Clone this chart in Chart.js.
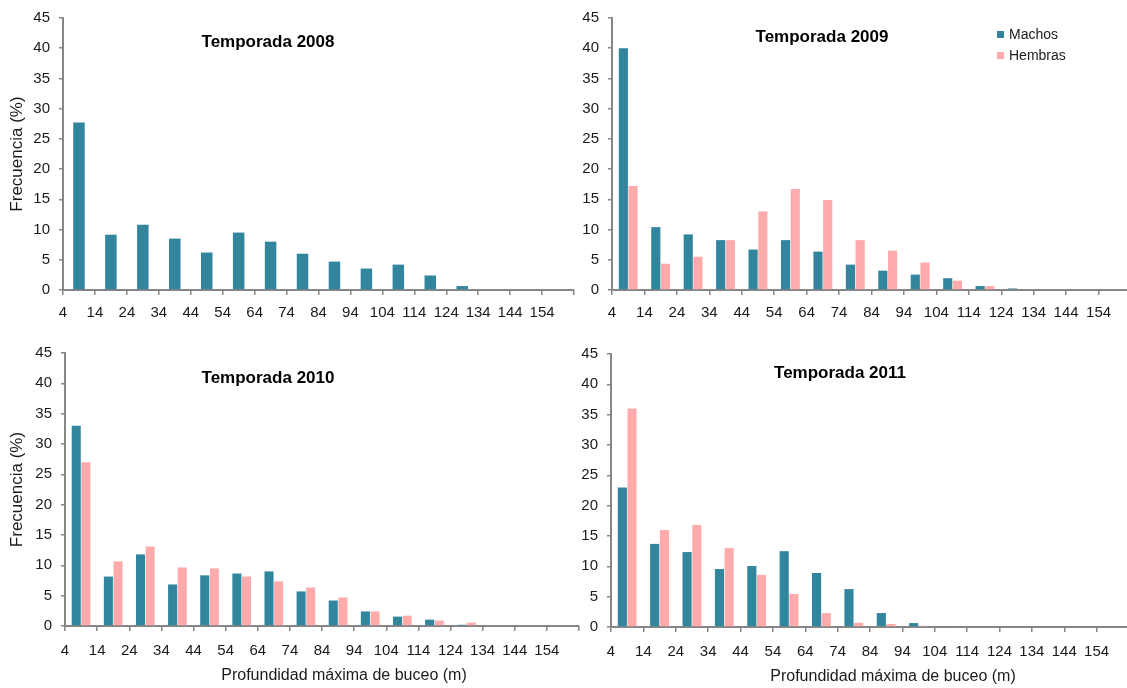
<!DOCTYPE html>
<html>
<head>
<meta charset="utf-8">
<script src="https://cdn.jsdelivr.net/npm/chart.js@4.4.1/dist/chart.umd.min.js"></script>
<style>
  html, body { margin: 0; padding: 0; background: #fff; overflow: hidden; width: 1127px; height: 688px; }
  canvas { position: absolute; }
</style>
</head>
<body>
<canvas id="c2008" width="590" height="330" style="left:0;top:0"></canvas>
<canvas id="c2009" width="580" height="330" style="left:560px;top:0"></canvas>
<canvas id="c2010" width="590" height="358" style="left:0;top:330px"></canvas>
<canvas id="c2011" width="580" height="358" style="left:560px;top:330px"></canvas>
<script>
// limites de clase (etiquetas del eje x) y centro de cada clase
const tickLabels = [4, 14, 24, 34, 44, 54, 64, 74, 84, 94, 104, 114, 124, 134, 144, 154];
const binMid = [9, 19, 29, 39, 49, 59, 69, 79, 89, 99, 109, 119, 129, 139, 149, 159];

// frecuencias (%)
const machos2008 = [27.7, 9.15, 10.8, 8.5, 6.2, 9.5, 8.0, 6.0, 4.7, 3.55, 4.2, 2.4, 0.65, 0, 0, 0];
const machos2009 = [40.0, 10.4, 9.2, 8.25, 6.7, 8.25, 6.35, 4.2, 3.2, 2.55, 1.95, 0.65, 0.25, 0, 0, 0];
const hembras2009 = [17.2, 4.35, 5.5, 8.25, 13.0, 16.7, 14.9, 8.25, 6.5, 4.55, 1.55, 0.65, 0, 0, 0, 0];
const machos2010 = [33.0, 8.15, 11.8, 6.85, 8.35, 8.65, 9.0, 5.7, 4.2, 2.4, 1.55, 1.05, 0.2, 0, 0, 0];
const hembras2010 = [27.0, 10.65, 13.1, 9.65, 9.5, 8.15, 7.35, 6.35, 4.7, 2.4, 1.7, 0.9, 0.55, 0, 0, 0];
const machos2011 = [23.0, 13.7, 12.35, 9.55, 10.05, 12.5, 8.9, 6.25, 2.3, 0.65, 0.15, 0, 0, 0, 0, 0];
const hembras2011 = [36.0, 16.0, 16.8, 13.0, 8.6, 5.45, 2.3, 0.7, 0.5, 0.2, 0, 0, 0, 0, 0, 0];

const colMachos = '#31859C';
const colHembras = '#FFABAB';
const axisCol = '#868686';
const txtCol = '#1a1a1a';
const fontFam = '"Liberation Sans", Arial, sans-serif';

// textos libres dentro del grafico (titulo, leyenda, titulo eje x)
const overlay = {
    id: 'overlay',
    afterDraw(chart, args, opts) {
        const ctx = chart.ctx;
        ctx.save();
        (opts.items || []).forEach(it => {
            if (it.box) {
                ctx.fillStyle = it.box;
                ctx.fillRect(it.x, it.y, it.w, it.h);
                return;
            }
            ctx.font = it.font;
            ctx.fillStyle = it.color || txtCol;
            ctx.textAlign = it.align || 'center';
            ctx.textBaseline = 'middle';
            ctx.fillText(it.text, it.x, it.y);
        });
        ctx.restore();
    }
};

function toPoints(arr) {
    return arr.map((v, i) => ({ x: binMid[i], y: v }));
}

function drawPanel(id, sets, p) {
    const ctx = document.getElementById(id).getContext('2d');
    const single = sets.length === 1;
    const datasets = sets.map(s => ({
        label: s.label,
        data: toPoints(s.data),
        backgroundColor: s.color,
        borderWidth: 0,
        categoryPercentage: single ? 0.36 : 0.6,
        barPercentage: single ? 1 : 0.94
    }));

    return new Chart(ctx, {
        type: 'bar',
        data: { datasets: datasets },
        plugins: [overlay],
        options: {
            responsive: false,
            animation: false,
            devicePixelRatio: 1,
            layout: { padding: { top: p.top, right: p.right, left: 0, bottom: 0 } },
            scales: {
                x: {
                    type: 'linear',
                    min: 4,
                    max: 164,
                    offset: false,
                    afterBuildTicks: s => { s.ticks = tickLabels.concat([164]).map(v => ({ value: v })); },
                    afterFit: s => { s.height = p.xh; },
                    ticks: {
                        autoSkip: false,
                        maxRotation: 0,
                        padding: p.xpad,
                        color: txtCol,
                        font: { family: fontFam, size: 15 },
                        callback: v => (v === 164 ? '' : String(v))
                    },
                    grid: { offset: false, drawOnChartArea: false, drawTicks: true, tickLength: 5, color: axisCol, lineWidth: 1.5 },
                    border: { color: axisCol, width: 2 }
                },
                y: {
                    min: 0,
                    max: 45,
                    afterFit: s => { s.width = p.yw; },
                    ticks: {
                        stepSize: 5,
                        padding: 9,
                        color: txtCol,
                        font: { family: fontFam, size: 15 }
                    },
                    grid: { drawOnChartArea: false, drawTicks: true, tickLength: 4, color: axisCol, lineWidth: 1.5 },
                    border: { color: axisCol, width: 2 },
                    title: {
                        display: !!p.yTitle,
                        text: 'Frecuencia (%)',
                        color: txtCol,
                        font: { family: fontFam, size: 17 },
                        padding: { top: 7, bottom: 0 }
                    }
                }
            },
            plugins: {
                legend: { display: false },
                tooltip: { enabled: false },
                overlay: { items: p.items }
            }
        }
    });
}

const titleFont = 'bold 17px ' + fontFam;
const xTitleFont = '16px ' + fontFam;
const legFont = '14px ' + fontFam;

drawPanel('c2008', [{ label: 'Machos', data: machos2008, color: colMachos }], {
    top: 17, right: 16, yw: 63, xh: 40, xpad: 9, yTitle: true,
    items: [{ text: 'Temporada 2008', x: 268, y: 42, font: titleFont, color: '#000' }]
});

drawPanel('c2009', [
    { label: 'Machos', data: machos2009, color: colMachos },
    { label: 'Hembras', data: hembras2009, color: colHembras }
], {
    top: 15, right: 6, yw: 52, xh: 40, xpad: 9, yTitle: false,
    items: [
        { text: 'Temporada 2009', x: 262, y: 37, font: titleFont, color: '#000' },
        { box: colMachos, x: 437, y: 31, w: 7, h: 7 },
        { text: 'Machos', x: 449, y: 35, font: legFont, align: 'left' },
        { box: colHembras, x: 437, y: 52, w: 7, h: 7 },
        { text: 'Hembras', x: 449, y: 56, font: legFont, align: 'left' }
    ]
});

drawPanel('c2010', [
    { label: 'Machos', data: machos2010, color: colMachos },
    { label: 'Hembras', data: hembras2010, color: colHembras }
], {
    top: 23, right: 10, yw: 65, xh: 62, xpad: 11, yTitle: true,
    items: [
        { text: 'Temporada 2010', x: 268, y: 48, font: titleFont, color: '#000' },
        { text: 'Profundidad máxima de buceo (m)', x: 344, y: 346, font: xTitleFont }
    ]
});

drawPanel('c2011', [
    { label: 'Machos', data: machos2011, color: colMachos },
    { label: 'Hembras', data: hembras2011, color: colHembras }
], {
    top: 24, right: 11, yw: 51, xh: 61, xpad: 11, yTitle: false,
    items: [
        { text: 'Temporada 2011', x: 280, y: 43, font: titleFont, color: '#000' },
        { text: 'Profundidad máxima de buceo (m)', x: 333, y: 347, font: xTitleFont }
    ]
});
</script>
</body>
</html>
